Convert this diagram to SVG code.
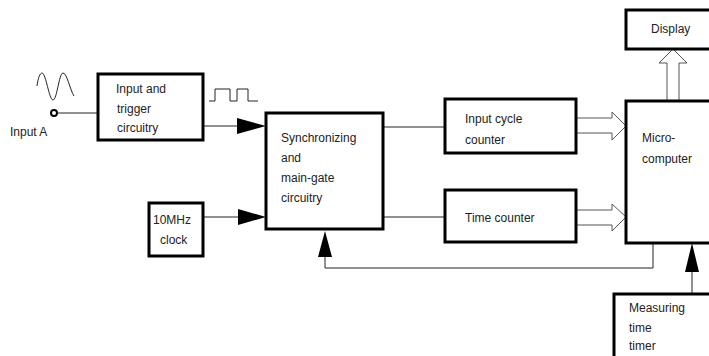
<svg xmlns="http://www.w3.org/2000/svg" width="709" height="356" viewBox="0 0 709 356">
<style>
.box{fill:#fff;stroke:#000;stroke-width:3}
.t{font-family:"Liberation Sans",Arial,sans-serif;font-size:12px;fill:#222}
.ln{fill:none;stroke:#222;stroke-width:1}
.ho{fill:#fff;stroke:#555;stroke-width:1}
.head{fill:#000}
</style>
<rect width="709" height="356" fill="#fff"/>
<g id="signals">
<path class="ln" d="M37,86 C38,78 40,73 42,73 C46,73 49,100 53,100 C57,100 59,73 63,73 C67,73 70,90 74,96" stroke-width="1.2"/>
<path class="ln" d="M209,101 H215 V89 H230 V101 H237 V89 H248 V101 H258"/>
<circle cx="54" cy="113" r="3" fill="#fff" stroke="#000" stroke-width="2"/>
<text class="t" x="10" y="136">Input A</text>
</g>
<g id="connectors">
<path class="ln" d="M57,113 H98"/>
<path class="ln" d="M203,126 H240"/>
<polygon class="head" points="237,118 266,126 237,134"/>
<path class="ln" d="M203,217 H240"/>
<polygon class="head" points="238,209 266,217 238,225"/>
<path class="ln" d="M383,127 H445"/>
<path class="ln" d="M383,217 H445"/>
<path class="ln" d="M653,243 V268 H325 V255"/>
<polygon class="head" points="318,257 325,231 332,257"/>
<path class="ln" d="M692,294 V268" stroke="#666"/>
<polygon class="head" points="685,272 692,243 699,272"/>
<polyline class="ho" points="576,118 612,118 612,112 626,126 612,140 612,133 576,133"/>
<polyline class="ho" points="576,210 612,210 612,204 626,217 612,231 612,225 576,225"/>
<polyline class="ho" points="667,101 667,63 659,63 673,49 687,63 679,63 679,101"/>
</g>
<g id="input-trigger">
<rect class="box" x="98" y="74" width="105" height="66"/>
<text class="t" x="116" y="93">Input and</text>
<text class="t" x="117" y="113">trigger</text>
<text class="t" x="117" y="132">circuitry</text>
</g>
<g id="clock">
<rect class="box" x="149" y="203" width="54" height="53"/>
<text class="t" x="153" y="224">10MHz</text>
<text class="t" x="160" y="244">clock</text>
</g>
<g id="sync">
<rect class="box" x="266" y="113" width="117" height="116"/>
<text class="t" x="281" y="142">Synchronizing</text>
<text class="t" x="281" y="162">and</text>
<text class="t" x="281" y="182">main-gate</text>
<text class="t" x="281" y="202">circuitry</text>
</g>
<g id="input-cycle-counter">
<rect class="box" x="445" y="99" width="131" height="54"/>
<text class="t" x="465" y="123">Input cycle</text>
<text class="t" x="465" y="144">counter</text>
</g>
<g id="time-counter">
<rect class="box" x="445" y="190" width="131" height="52"/>
<text class="t" x="465" y="222">Time counter</text>
</g>
<g id="microcomputer">
<rect class="box" x="626" y="101" width="90" height="142"/>
<text class="t" x="642" y="142">Micro-</text>
<text class="t" x="642" y="163">computer</text>
</g>
<g id="display">
<rect class="box" x="626" y="10" width="90" height="39"/>
<text class="t" x="651" y="33">Display</text>
</g>
<g id="measuring-timer">
<rect class="box" x="614" y="294" width="100" height="70"/>
<text class="t" x="629" y="312">Measuring</text>
<text class="t" x="629" y="332">time</text>
<text class="t" x="629" y="350">timer</text>
</g>
</svg>
